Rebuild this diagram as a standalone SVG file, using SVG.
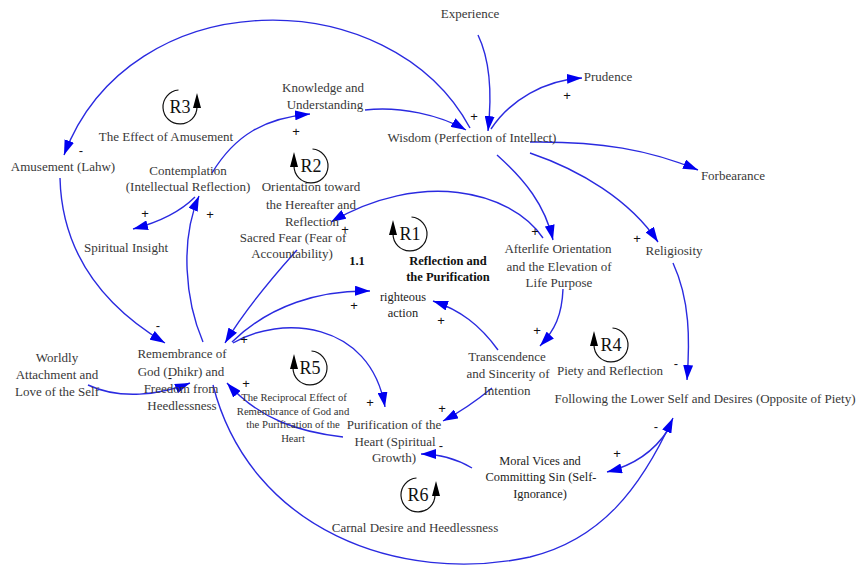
<svg xmlns="http://www.w3.org/2000/svg" width="857" height="571" viewBox="0 0 857 571">
<defs>
<marker id="ah" markerUnits="userSpaceOnUse" markerWidth="16" markerHeight="10" refX="15" refY="5" orient="auto">
<path d="M0,0 L15,5 L0,10 z" fill="#0000f0"/>
</marker>
<style>
.lk{fill:none;stroke:#2a2ae0;stroke-width:1.4;marker-end:url(#ah)}
.t{font-family:"Liberation Serif","Times New Roman",serif;font-size:13px;fill:#383838;text-anchor:middle}
.tm{font-family:"Liberation Serif","Times New Roman",serif;font-size:12.4px;fill:#222;text-anchor:middle}
.ts{font-family:"Liberation Serif","Times New Roman",serif;font-size:10.7px;fill:#333;text-anchor:middle}
.tb{font-family:"Liberation Serif","Times New Roman",serif;font-size:12.5px;font-weight:bold;fill:#111;text-anchor:middle}
.sg{font-family:"Liberation Sans",Arial,sans-serif;font-size:13px;fill:#111;text-anchor:middle}
.rl{font-family:"Liberation Serif","Times New Roman",serif;font-size:18px;fill:#111;text-anchor:middle}
.rc{fill:none;stroke:#111;stroke-width:1.2}
.ra{fill:#000}
</style>
</defs>
<rect width="857" height="571" fill="#fff"/>

<g id="connectors">
<path class="lk" d="M470,128 C390,-20 130,-20 64,155"/>
<path class="lk" d="M60,178 C62,260 110,310 165,343"/>
<path class="lk" d="M212,173 C235,135 265,118 310,114"/>
<path class="lk" d="M365,110 C400,106 440,115 466,130"/>
<path class="lk" d="M478,35 C490,60 492,95 488,131"/>
<path class="lk" d="M491,129 C510,100 545,80 582,78"/>
<path class="lk" d="M530,142 C600,141 650,150 698,170"/>
<path class="lk" d="M530,153 C580,170 630,200 658,242"/>
<path class="lk" d="M497,155 C525,180 545,205 553,240"/>
<path class="lk" d="M543,238 C510,190 420,170 331,222"/>
<path class="lk" d="M297,250 C270,280 245,310 225,343"/>
<path class="lk" d="M232,342 C270,305 320,290 370,291"/>
<path class="lk" d="M233,343 C280,315 370,320 385,407"/>
<path class="lk" d="M343,437 C300,432 260,420 227,383"/>
<path class="lk" d="M88,385 C120,400 160,395 190,383"/>
<path class="lk" d="M203,342 C185,300 180,240 199,196"/>
<path class="lk" d="M195,197 C180,212 160,222 133,229"/>
<path class="lk" d="M563,289 C562,315 555,330 540,346"/>
<path class="lk" d="M498,350 C480,325 460,310 433,301"/>
<path class="lk" d="M492,388 C475,402 460,412 443,421"/>
<path class="lk" d="M673,263 C690,300 690,340 687,380"/>
<path class="lk" d="M668,430 C655,450 635,465 607,472"/>
<path class="lk" d="M213,385 C250,530 400,585 530,557 C600,540 640,490 673,418"/>
<path class="lk" d="M472,468 C455,458 440,454 421,454"/>
</g>

<g id="signs">
<text class="sg" x="81" y="155">-</text>
<text class="sg" x="296" y="136">+</text>
<text class="sg" x="474" y="121">+</text>
<text class="sg" x="567" y="100">+</text>
<text class="sg" x="637" y="243">+</text>
<text class="sg" x="535" y="236">+</text>
<text class="sg" x="345" y="234">+</text>
<text class="sg" x="158" y="330">-</text>
<text class="sg" x="210" y="219">+</text>
<text class="sg" x="145" y="218">+</text>
<text class="sg" x="354" y="310">+</text>
<text class="sg" x="441" y="325">+</text>
<text class="sg" x="537" y="335">+</text>
<text class="sg" x="244" y="344">+</text>
<text class="sg" x="246" y="388">+</text>
<text class="sg" x="170" y="382">-</text>
<text class="sg" x="370" y="407">+</text>
<text class="sg" x="442" y="413">+</text>
<text class="sg" x="441" y="450">-</text>
<text class="sg" x="676" y="368">-</text>
<text class="sg" x="656" y="431">-</text>
<text class="sg" x="617" y="458">+</text>
</g>

<g id="loops">
<g id="R3"><path class="rc" d="M178.5,90 A17,17 0 1 0 197,107"/><path class="ra" d="M197,93 L193,108 L201,108 z"/><text class="rl" x="180" y="113">R3</text></g>
<g id="R2"><path class="rc" d="M312.5,149 A17,17 0 1 1 294,166"/><path class="ra" d="M294,152 L290,167 L298,167 z"/><text class="rl" x="311" y="172">R2</text></g>
<g id="R1"><path class="rc" d="M411.5,217 A17,17 0 1 1 393,234"/><path class="ra" d="M393,220 L389,235 L397,235 z"/><text class="rl" x="410" y="240">R1</text></g>
<g id="R4"><path class="rc" d="M612.5,328 A17,17 0 1 1 594,345"/><path class="ra" d="M594,331 L590,346 L598,346 z"/><text class="rl" x="611" y="351">R4</text></g>
<g id="R5"><path class="rc" d="M311.5,351 A17,17 0 1 1 293,368"/><path class="ra" d="M294,354 L290,369 L298,369 z"/><text class="rl" x="310" y="374">R5</text></g>
<g id="R6"><path class="rc" d="M416.5,478 A17,17 0 1 0 435,495"/><path class="ra" d="M436,481 L432,496 L440,496 z"/><text class="rl" x="418" y="501">R6</text></g>
</g>

<g id="experience"><text class="t" x="470" y="18">Experience</text></g>
<g id="knowledge"><text class="t" x="323" y="92">Knowledge and</text><text class="t" x="325" y="109">Understanding</text></g>
<g id="wisdom"><text class="t" x="472" y="142">Wisdom (Perfection of Intellect)</text></g>
<g id="prudence"><text class="t" x="608" y="81">Prudence</text></g>
<g id="forbearance"><text class="t" x="733" y="180">Forbearance</text></g>
<g id="amusement"><text class="t" x="63" y="171">Amusement (Lahw)</text></g>
<g id="loop-r3-label"><text class="t" x="166" y="141">The Effect of Amusement</text></g>
<g id="contemplation"><text class="t" x="188" y="175">Contemplation</text><text class="t" x="188" y="191">(Intellectual Reflection)</text></g>
<g id="spiritual-insight"><text class="t" x="126" y="252">Spiritual Insight</text></g>
<g id="orientation"><text class="t" x="311" y="191">Orientation toward</text><text class="t" x="311" y="209">the Hereafter and</text><text class="t" x="312" y="226">Reflection</text></g>
<g id="sacred-fear"><text class="t" x="293" y="242">Sacred Fear (Fear of</text><text class="t" x="292" y="258">Accountability)</text></g>
<g id="label-1-1"><text class="tb" x="357" y="265">1.1</text></g>
<g id="loop-r1-label"><text class="tb" x="448" y="265">Reflection and</text><text class="tb" x="448" y="281">the Purification</text></g>
<g id="righteous"><text class="tm" x="403" y="301">righteous</text><text class="tm" x="403" y="317">action</text></g>
<g id="afterlife"><text class="t" x="558" y="253">Afterlife Orientation</text><text class="t" x="559" y="271">and the Elevation of</text><text class="t" x="559" y="287">Life Purpose</text></g>
<g id="religiosity"><text class="t" x="674" y="255">Religiosity</text></g>
<g id="loop-r4-label"><text class="t" x="610" y="375">Piety and Reflection</text></g>
<g id="following"><text class="t" x="705" y="403">Following the Lower Self and Desires (Opposite of Piety)</text></g>
<g id="transcendence"><text class="t" x="507" y="361">Transcendence</text><text class="t" x="508" y="378">and Sincerity of</text><text class="t" x="507" y="395">Intention</text></g>
<g id="worldly"><text class="t" x="57" y="362">Worldly</text><text class="t" x="57" y="379">Attachment and</text><text class="t" x="57" y="396">Love of the Self</text></g>
<g id="remembrance"><text class="t" x="182" y="358">Remembrance of</text><text class="t" x="181" y="376">God (Dhikr) and</text><text class="t" x="181" y="393">Freedom from</text><text class="t" x="182" y="410">Heedlessness</text></g>
<g id="loop-r5-label"><text class="ts" x="294" y="401">The Reciprocal Effect of</text><text class="ts" x="293" y="415">Remembrance of God and</text><text class="ts" x="293" y="428">the Purification of the</text><text class="ts" x="293" y="442">Heart</text></g>
<g id="purification"><text class="t" x="394" y="429">Purification of the</text><text class="t" x="395" y="446">Heart (Spiritual</text><text class="t" x="394" y="462">Growth)</text></g>
<g id="moral-vices"><text class="tm" x="540" y="465">Moral Vices and</text><text class="tm" x="541" y="481">Committing Sin (Self-</text><text class="tm" x="540" y="498">Ignorance)</text></g>
<g id="loop-r6-label"><text class="t" x="415" y="532">Carnal Desire and Heedlessness</text></g>
</svg>
